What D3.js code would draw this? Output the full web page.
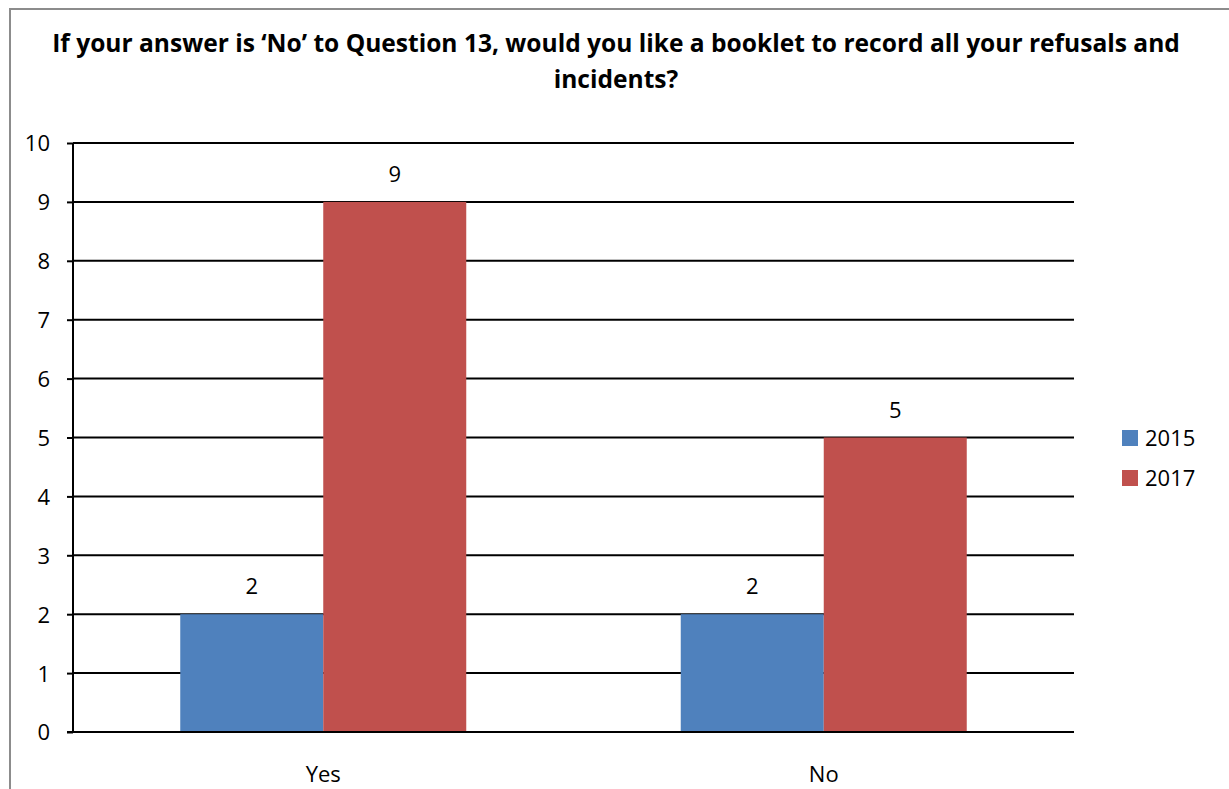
<!DOCTYPE html>
<html>
<head>
<meta charset="utf-8">
<script src="https://cdn.jsdelivr.net/npm/d3@7"></script>
<style>
  html, body { margin: 0; padding: 0; background: #fff; }
  svg { display: block; }
  text { font-family: "Open Sans", "Noto Sans", sans-serif; fill: #000; }
</style>
</head>
<body>
<svg id="chart" width="1229" height="789"></svg>
<script>
// Survey answers by year
const categories = ["Yes", "No"];
const seriesNames = ["2015", "2017"];
const values2015 = [2, 2];
const values2017 = [9, 5];
const yTicks = [0, 1, 2, 3, 4, 5, 6, 7, 8, 9, 10];
const colors = ["#4f81bd", "#c0504d"];
const titleLines = [
  "If your answer is \u2018No\u2019 to Question 13, would you like a booklet to record all your refusals and",
  "incidents?"
];

const FONT = "'Open Sans', 'Noto Sans', sans-serif";
const svg = d3.select("#chart");
const W = 1229, H = 789;
const plot = { left: 73, right: 1074, top: 143, bottom: 732 };

// Outer frame
svg.append("rect")
  .attr("x", 10).attr("y", 9)
  .attr("width", W + 20).attr("height", H + 20)
  .attr("fill", "#fff")
  .attr("stroke", "#8c8c8c").attr("stroke-width", 2);

// Title, sized so the first line spans the chart width
const title = svg.append("g").selectAll("text")
  .data(titleLines)
  .join("text")
  .attr("x", 616)
  .attr("y", (d, i) => 52 + i * 36)
  .attr("text-anchor", "middle")
  .attr("font-size", 21)
  .attr("font-weight", 700)
  .text(d => d);
const firstLen = title.nodes()[0].getComputedTextLength();
title.attr("font-size", 21 * 1128 / firstLen);

const x0 = d3.scaleBand().domain(categories).range([plot.left, plot.right]);
// gap between groups equals 150% of one bar width
const gapRatio = 1.5;
const edge = x0.bandwidth() * (gapRatio / 2) / (2 + gapRatio);
const x1 = d3.scaleBand().domain(seriesNames).range([edge, x0.bandwidth() - edge]);
const y = d3.scaleLinear().domain([0, 10]).range([plot.bottom, plot.top]);

// Horizontal gridlines
svg.append("g").selectAll("line")
  .data(yTicks.filter(t => t > 0))
  .join("line")
  .attr("x1", plot.left).attr("x2", plot.right)
  .attr("y1", d => y(d)).attr("y2", d => y(d))
  .attr("stroke", "#000").attr("stroke-width", 2);

// Bars
const rows = categories.map((c, i) => ({ cat: c, vals: [values2015[i], values2017[i]] }));
const groups = svg.append("g").selectAll("g")
  .data(rows)
  .join("g")
  .attr("transform", d => `translate(${x0(d.cat)},0)`);

groups.selectAll("rect")
  .data(d => d.vals.map((v, j) => ({ name: seriesNames[j], v, j })))
  .join("rect")
  .attr("x", d => x1(d.name))
  .attr("width", x1.bandwidth())
  .attr("y", d => y(d.v))
  .attr("height", d => y(0) - y(d.v))
  .attr("fill", d => colors[d.j]);

groups.selectAll("text.val")
  .data(d => d.vals.map((v, j) => ({ name: seriesNames[j], v, j })))
  .join("text")
  .attr("class", "val")
  .attr("x", d => x1(d.name) + x1.bandwidth() / 2)
  .attr("y", d => y(d.v) - 20)
  .attr("text-anchor", "middle")
  .attr("font-size", 22)
  .text(d => d.v);

// Y axis
const yAxis = svg.append("g")
  .attr("transform", `translate(${plot.left},0)`)
  .call(d3.axisLeft(y).tickValues(yTicks).tickSize(6).tickPadding(17).tickFormat(d3.format("d")));
yAxis.select(".domain").attr("stroke", "#000").attr("stroke-width", 2).attr("d", `M0,${plot.top}V${plot.bottom}`);
yAxis.selectAll(".tick line").attr("stroke", "#000").attr("stroke-width", 2);
yAxis.selectAll(".tick text").attr("font-size", 22).attr("font-family", FONT).attr("fill", "#000").attr("dy", "0.36em");

// X axis
const xAxis = svg.append("g")
  .attr("transform", `translate(0,${plot.bottom})`)
  .call(d3.axisBottom(x0).tickSize(0).tickPadding(34));
xAxis.select(".domain").attr("stroke", "#000").attr("stroke-width", 2).attr("d", `M${plot.left - 6},0H${plot.right}`);
xAxis.selectAll(".tick text").attr("font-size", 22).attr("font-family", FONT).attr("fill", "#000");

// Legend
const legend = svg.append("g").selectAll("g")
  .data(seriesNames)
  .join("g")
  .attr("transform", (d, i) => `translate(1122,${430 + i * 40})`);
legend.append("rect").attr("width", 16).attr("height", 16).attr("fill", (d, i) => colors[i]);
legend.append("text").attr("x", 23).attr("y", 16).attr("font-size", 22).text(d => d);
</script>
</body>
</html>
